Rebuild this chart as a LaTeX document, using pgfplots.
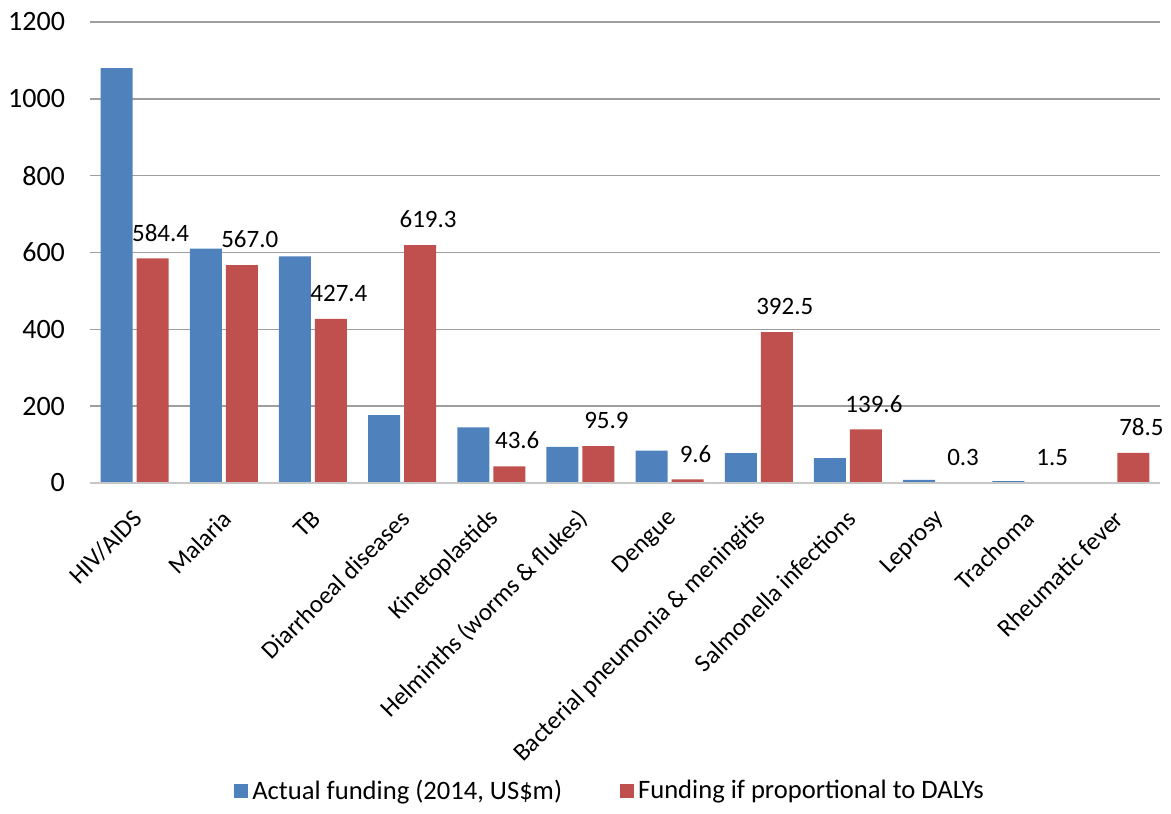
\documentclass[border=0pt]{standalone}
\usepackage{pgfplots}
\usepackage{pgfplotstable}
\pgfplotsset{compat=1.18}
\usepackage{fontspec}
\setmainfont{Carlito}
\definecolor{xlblue}{HTML}{4F81BD}
\definecolor{xlred}{HTML}{C0504D}
\pgfplotstableread{
x blue red lab
0 1080 584.4 584.4
1 610 567.0 567.0
2 590 427.4 427.4
3 177 619.3 619.3
4 145 43.6 43.6
5 94 95.9 95.9
6 84 9.6 9.6
7 78 392.5 392.5
8 65 139.6 139.6
9 8 0.3 0.3
10 5 1.5 1.5
11 0 78.5 78.5
}\datatab
\begin{document}
\begin{tikzpicture}
\path[use as bounding box] (-45pt,-165pt) rectangle (540.5pt,241.5pt);
\begin{axis}[
  at={(0,0)}, anchor=south west,
  scale only axis, width=535pt, height=230.5pt,
  ymin=0, ymax=1200, ytick={0,200,...,1200},
  xmin=-0.5, xmax=11.5,
  xtick={0,...,11},
  xticklabels={HIV/AIDS,Malaria,TB,Diarrhoeal diseases,Kinetoplastids,Helminths (worms \& flukes),Dengue,Bacterial pneumonia \& meningitis,Salmonella infections,Leprosy,Trachoma,Rheumatic fever},
  ybar=2pt, bar width=16pt,
  axis line style={draw=none},
  major tick length=0pt,
  ymajorgrids, grid style={color=black!38, line width=0.8pt},
  /pgf/number format/assume math mode=true,
  /pgf/number format/1000 sep={},
  yticklabel style={font=\fontsize{14}{16}\selectfont, xshift=-9pt},
  xticklabel style={font=\fontsize{12.5}{14}\selectfont, rotate=45, anchor=east, yshift=-12.5pt, xshift=-6.5pt},
  legend columns=2,
  legend style={draw=none, at={(0.487,-0.668)}, anchor=center, font=\fontsize{13.3}{15}\selectfont,
    /tikz/every even column/.append style={column sep=27pt}},
  legend image code/.code={\fill[#1] (0pt,-3.5pt) rectangle (7pt,3.5pt);},
]
\addplot[fill=xlblue, draw=none] table[x=x, y=blue] {\datatab};
\addlegendentry{Actual funding (2014, US\$m)}
\addplot[fill=xlred, draw=none, point meta=explicit symbolic,
  nodes near coords,
  nodes near coords style={font=\fontsize{12.5}{14}\selectfont, color=black, anchor=south, yshift=5pt, xshift=4pt}]
  table[x=x, y=red, meta=lab] {\datatab};
\addlegendentry{Funding if proportional to DALYs}
\draw[black!22, line width=1.2pt] (axis cs:-0.5,0) -- (axis cs:11.5,0);
\end{axis}
\end{tikzpicture}
\end{document}
